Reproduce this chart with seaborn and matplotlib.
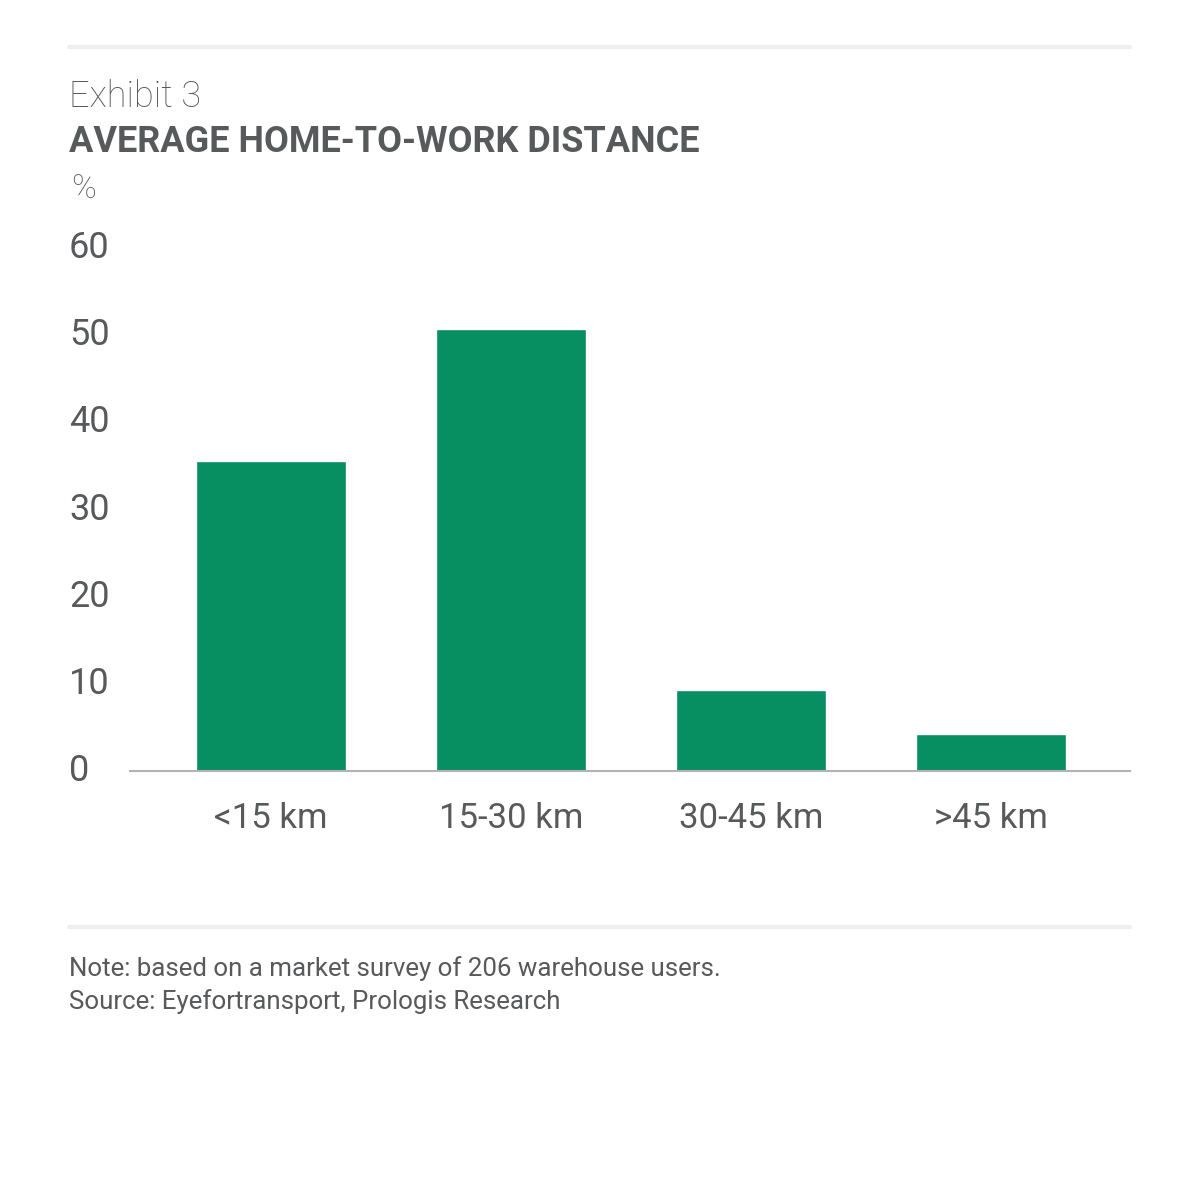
import matplotlib
matplotlib.use("Agg")
import matplotlib.pyplot as plt
import seaborn as sns
import pandas as pd
from matplotlib.lines import Line2D

categories = ["<15 km", "15-30 km", "30-45 km", ">45 km"]
values = [35.6, 50.7, 9.3, 4.2]
yticks = [0, 10, 20, 30, 40, 50, 60]

sns.set_style("white")
plt.rcParams['font.family'] = ['Roboto', 'DejaVu Sans']

TXT = "#58595b"
GREEN = "#078f61"

fig = plt.figure(figsize=(12, 12.01), dpi=100)
W, H = 1200, 1201
ax = fig.add_axes([130 / W, 1 - 771 / H, 1000 / W, (771 - 248) / H])

df = pd.DataFrame({"cat": categories, "val": values})
sns.barplot(data=df, x="cat", y="val", color=GREEN, saturation=1, width=0.625, ax=ax)

ax.set_xlim(-0.5875, 3.579)
ax.set_ylim(0, 60)
ax.set_yticks(yticks)
ax.set_yticklabels([str(v) for v in yticks])
ax.set_xlabel("")
ax.set_ylabel("")
for s in ["top", "right", "left"]:
    ax.spines[s].set_visible(False)
ax.spines["bottom"].set_color("#b3b3b3")
ax.spines["bottom"].set_linewidth(1.5)
ax.tick_params(axis="x", length=0, labelsize=25, labelcolor=TXT, pad=22)
ax.tick_params(axis="y", length=0, labelsize=26, labelcolor=TXT, pad=(130 - 69) * 0.72)
for lab in ax.get_yticklabels():
    lab.set_horizontalalignment("left")
    lab.set_verticalalignment("center")
ax.grid(False)

# rules
fig.add_artist(Line2D([69 / W, 1130 / W], [1 - 47 / H, 1 - 47 / H], color="#efefef", lw=3))
fig.add_artist(Line2D([69 / W, 1130 / W], [1 - 927 / H, 1 - 927 / H], color="#efefef", lw=3))

fig.text(69 / W, 1 - 97 / H, "Exhibit 3", fontsize=26, fontweight="light", color=TXT, va="center", ha="left")
fig.text(69 / W, 1 - 142 / H, "AVERAGE HOME-TO-WORK DISTANCE", fontsize=26, fontweight="bold", color=TXT, va="center", ha="left")
fig.text(71 / W, 1 - 189 / H, "%", fontsize=24, fontweight="light", color=TXT, va="center", ha="left")

fig.text(69 / W, 1 - 969 / H, "Note: based on a market survey of 206 warehouse users.", fontsize=18.6, color=TXT, va="center", ha="left")
fig.text(69 / W, 1 - 1002 / H, "Source: Eyefortransport, Prologis Research", fontsize=18.6, color=TXT, va="center", ha="left")

fig.savefig("out.png", dpi=100, facecolor="white")
